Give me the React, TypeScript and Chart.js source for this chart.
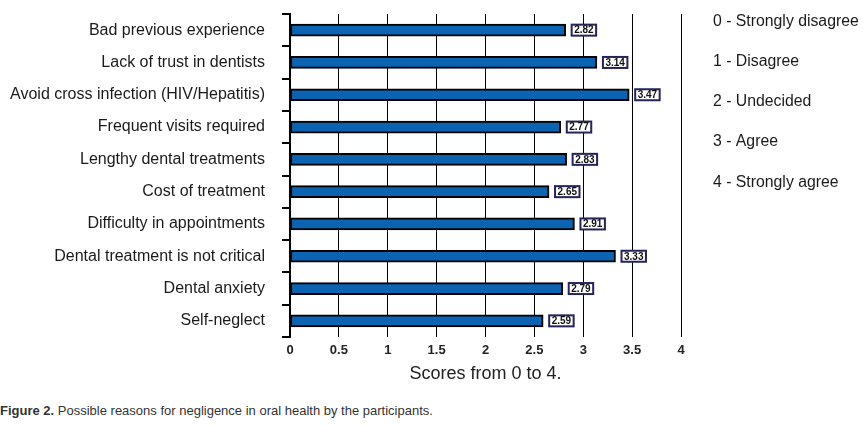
import React, { useEffect, useRef } from "react";
import { Chart, registerables } from "chart.js";

Chart.register(...registerables);

const categories = [
  "Bad previous experience",
  "Lack of trust in dentists",
  "Avoid cross infection (HIV/Hepatitis)",
  "Frequent visits required",
  "Lengthy dental treatments",
  "Cost of treatment",
  "Difficulty in appointments",
  "Dental treatment is not critical",
  "Dental anxiety",
  "Self-neglect",
];
const scores = [2.82, 3.14, 3.47, 2.77, 2.83, 2.65, 2.91, 3.33, 2.79, 2.59];
const xTickLabels = ["0", "0.5", "1", "1.5", "2", "2.5", "3", "3.5", "4"];
const legendLabels = [
  "0 - Strongly disagree",
  "1 - Disagree",
  "2 - Undecided",
  "3 - Agree",
  "4 - Strongly agree",
];
const xTitle = "Scores from 0 to 4.";
const captionBold = "Figure 2.";
const captionText = " Possible reasons for negligence in oral health by the participants.";

const FONT = "'Liberation Sans', Arial, Helvetica, sans-serif";

const valueBoxPlugin = {
  id: "valueBoxes",
  afterDatasetsDraw(chart: any) {
    const ctx = chart.ctx;
    const meta = chart.getDatasetMeta(0);
    ctx.save();
    ctx.font = `bold 10px ${FONT}`;
    ctx.textBaseline = "middle";
    ctx.textAlign = "left";
    meta.data.forEach((bar: any, i: number) => {
      const txt = scores[i].toFixed(2);
      const w = ctx.measureText(txt).width;
      const bx = bar.x + 6;
      const by = bar.y - 5.5;
      const bw = w + 5;
      const bh = 11;
      ctx.fillStyle = "#ffffff";
      ctx.fillRect(bx, by, bw, bh);
      ctx.strokeStyle = "#25235a";
      ctx.lineWidth = 2;
      ctx.strokeRect(bx, by, bw, bh);
      ctx.fillStyle = "#111111";
      ctx.fillText(txt, bx + 2.5, bar.y + 0.5);
    });
    ctx.restore();
  },
};

const legendPlugin = {
  id: "sideLegend",
  afterDraw(chart: any) {
    const ctx = chart.ctx;
    const ys = [22, 62, 102, 142, 183];
    ctx.save();
    ctx.font = `15.8px ${FONT}`;
    ctx.fillStyle = "#1a1a1a";
    ctx.textBaseline = "middle";
    ctx.textAlign = "left";
    legendLabels.forEach((t, i) => {
      ctx.fillText(t, 713, ys[i]);
    });
    ctx.restore();
  },
};

export default function App() {
  const ref = useRef<HTMLCanvasElement>(null);

  useEffect(() => {
    if (!ref.current) return;
    const chart = new Chart(ref.current, {
      type: "bar",
      data: {
        labels: categories,
        datasets: [
          {
            data: scores,
            backgroundColor: "#0b63b2",
            borderColor: "#000000",
            borderWidth: 2,
            borderSkipped: false,
            barThickness: 12,
          },
        ],
      },
      options: {
        indexAxis: "y",
        animation: false,
        responsive: false,
        devicePixelRatio: 1,
        layout: { padding: { left: 0, right: 182, top: 14, bottom: 0 } },
        plugins: {
          legend: { display: false },
          tooltip: { enabled: false },
        },
        scales: {
          x: {
            min: 0,
            max: 4,
            ticks: {
              stepSize: 0.5,
              padding: 6,
              color: "#222222",
              font: { family: FONT, size: 13, weight: "bold" },
              callback: (_v: any, i: number) => xTickLabels[i],
            },
            grid: {
              color: "#000000",
              lineWidth: 1,
              drawTicks: false,
            },
            border: { display: false },
            title: {
              display: true,
              text: xTitle,
              color: "#222222",
              font: { family: FONT, size: 18 },
              padding: 10,
            },
            afterFit(scale: any) {
              scale.height = 58;
              scale.paddingLeft = 0;
              scale.paddingRight = 0;
            },
          },
          y: {
            ticks: {
              padding: 17,
              color: "#1a1a1a",
              font: { family: FONT, size: 16 },
            },
            grid: {
              offset: true,
              drawOnChartArea: false,
              drawTicks: true,
              tickLength: 8,
              color: "#000000",
              lineWidth: 2,
            },
            border: { display: true, color: "#000000", width: 2 },
            afterFit(scale: any) {
              scale.width = 290;
              scale.paddingTop = 0;
              scale.paddingBottom = 0;
            },
          },
        },
      },
      plugins: [valueBoxPlugin, legendPlugin],
    });
    return () => chart.destroy();
  }, []);

  return (
    <div style={{ position: "absolute", left: 0, top: 0, width: 863, height: 426, background: "#fff" }}>
      <canvas ref={ref} width={863} height={395} style={{ display: "block", width: 863, height: 395 }} />
      <div
        style={{
          position: "absolute",
          left: 0,
          top: 403,
          fontFamily: FONT,
          fontSize: 13,
          color: "#333333",
          whiteSpace: "nowrap",
        }}
      >
        <b>{captionBold}</b>
        {captionText}
      </div>
    </div>
  );
}
